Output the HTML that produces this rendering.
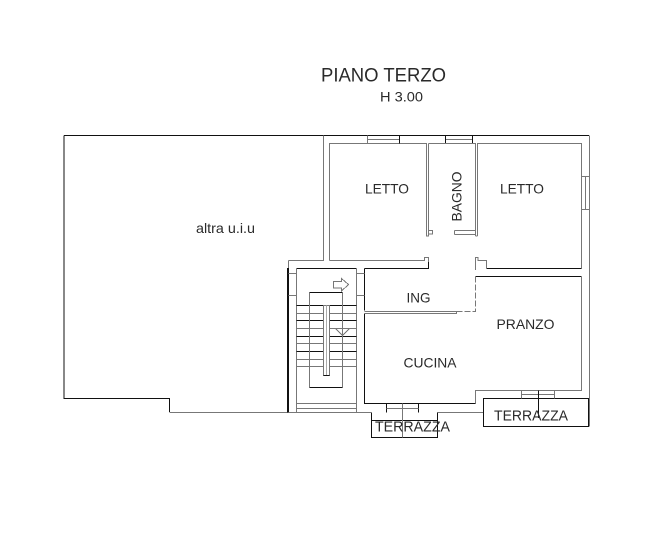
<!DOCTYPE html>
<html><head><meta charset="utf-8"><style>
html,body{margin:0;padding:0;background:#fff;width:656px;height:537px;overflow:hidden}
svg{display:block}
text{font-family:"Liberation Sans",sans-serif;fill:#2a2a2a}
.g{stroke:#777;stroke-width:1;fill:none}
.k{stroke:#111;stroke-width:1;fill:none}
</style></head><body>
<svg width="656" height="537" viewBox="0 0 656 537" xmlns="http://www.w3.org/2000/svg" shape-rendering="crispEdges">
<!-- outer -->
<path class="k" d="M64 135.5H589M64 135.5V398.5H169.5V412"/>
<path class="g" d="M169.5 412.5H371.5M437.5 412.5H483.5M589.5 135.5V426.5"/>
<path class="g" d="M323.5 135.5V260.5H288.5"/>
<path class="k" style="stroke-width:2" d="M288 268V412.5"/>
<path class="g" d="M288.5 260.5V268"/>
<!-- letto 1 -->
<path class="g" d="M329.5 260.5V143.5H426.5V236H428.5V143.5M329.5 260.5H424.5V257.5H428.5V264"/>
<path class="k" d="M364.5 268.5H428.5V262"/>
<path class="g" d="M428.5 230.5H432.5V234H428.5"/>
<!-- windows top -->
<path class="g" d="M367.5 135.5V143.5M367.5 139.5H399.5M445.5 139.5H472.5"/>
<path class="k" d="M399.5 135.5V143.5M445.5 135.5V143.5M472.5 135.5V143.5"/>
<!-- bagno -->
<path class="g" d="M428.5 143.5H475.5V236M477.5 236V143.5H581.5V268.5"/>
<path class="g" d="M454.5 230.5H475.5M454.5 234.5H475.5M454.5 230.5V234.5M475.5 236H477.5"/>
<path class="k" d="M486.5 268.5H581.5"/>
<path class="g" d="M486.5 268.5V260.5H478V257.5H475.5V270"/>
<!-- right window -->
<path class="g" d="M581.5 176.5H589.5M581.5 209.5H589.5M585.5 176.5V209.5"/>
<!-- pranzo -->
<path class="k" d="M475.5 276.5H581.5"/>
<path class="g" d="M581.5 276.5V390.5H475.5V403.5"/>
<path class="g" stroke-dasharray="6 2" d="M475.5 276.5V311.5H456"/>
<path class="k" d="M364.5 268.5V310.5M364.5 313.5V403.5H475.5"/>
<path class="g" d="M364.5 311.5H456.5V313.5H364.5"/>
<!-- terrazza 1 -->
<path class="k" d="M371.5 412.5V437.5H437.5V412.5M371.5 420.5H437.5"/>
<path class="k" d="M386.5 403.5V412.5M418.5 403.5V412.5"/>
<path class="g" d="M386.5 408.5H418.5M402.5 403.5V437.5"/>
<!-- terrazza 2 -->
<rect class="k" x="483.5" y="398.5" width="105" height="28"/>
<path class="g" d="M521.5 390.5V398.5M554.5 390.5V398.5M521.5 394.5H554.5"/>
<path class="k" d="M538.5 390.5V418"/>
<!-- stair -->
<path class="k" d="M296.5 268.5H356.5"/>
<path class="g" d="M296.5 268.5V412.5M356.5 268.5V412.5"/>
<path class="g" d="M288.5 273.5H296.5M288.5 295.5H296.5M356.5 273.5H364.5M356.5 295.5H364.5"/>
<path class="k" d="M296.5 305.5H356.5M296.5 320.5H356.5M296.5 336.5H356.5M296.5 351.5H356.5"/>
<path class="g" d="M296.5 313.5H356.5M296.5 328.5H356.5M296.5 343.5H356.5M296.5 359.5H356.5M296.5 366.5H356.5"/>
<path class="g" d="M296.5 403.5H356.5M296.5 408.5H356.5M288.5 412.5H371.5"/>
<path class="g" d="M309.5 292.5V387.5M342.5 292.5V387.5"/>
<path class="k" d="M309.5 292.5H342.5M309.5 387.5H342.5"/>
<rect x="323.5" y="305.5" width="6" height="70" fill="#fff" stroke="#777"/>
<path d="M326.5 305.5V375.5" stroke="#aaa" stroke-width="1" fill="none"/>
<path class="k" d="M323.5 375.5H329.5"/>
<path class="g" d="M333.5 281.5H341.5V278.5L348.5 284.5L341.5 291V288H333.5Z"/>
<path class="g" d="M336 329L342.5 335.5L349 329"/>
<!-- labels -->
<g shape-rendering="auto">
<text x="321" y="81.5" font-size="19.5" textLength="125" lengthAdjust="spacingAndGlyphs">PIANO TERZO</text>
<text x="380" y="101.5" font-size="14" textLength="43" lengthAdjust="spacingAndGlyphs">H 3.00</text>
<text x="196" y="233" font-size="14" textLength="59" lengthAdjust="spacingAndGlyphs">altra u.i.u</text>
<text x="365" y="193.5" font-size="14" textLength="44" lengthAdjust="spacingAndGlyphs">LETTO</text>
<text x="500" y="193.5" font-size="14" textLength="44" lengthAdjust="spacingAndGlyphs">LETTO</text>
<text transform="translate(461.5 221.5) rotate(-90)" font-size="14" textLength="50" lengthAdjust="spacingAndGlyphs">BAGNO</text>
<text x="406.5" y="302.5" font-size="14" textLength="24" lengthAdjust="spacingAndGlyphs">ING</text>
<text x="403.5" y="367.5" font-size="14" textLength="53" lengthAdjust="spacingAndGlyphs">CUCINA</text>
<text x="496.5" y="329" font-size="14" textLength="58" lengthAdjust="spacingAndGlyphs">PRANZO</text>
<text x="375" y="431.5" font-size="14.5" textLength="75" lengthAdjust="spacingAndGlyphs">TERRAZZA</text>
<text x="494" y="420.5" font-size="14.5" textLength="74" lengthAdjust="spacingAndGlyphs">TERRAZZA</text>
</g>
</svg>
</body></html>
